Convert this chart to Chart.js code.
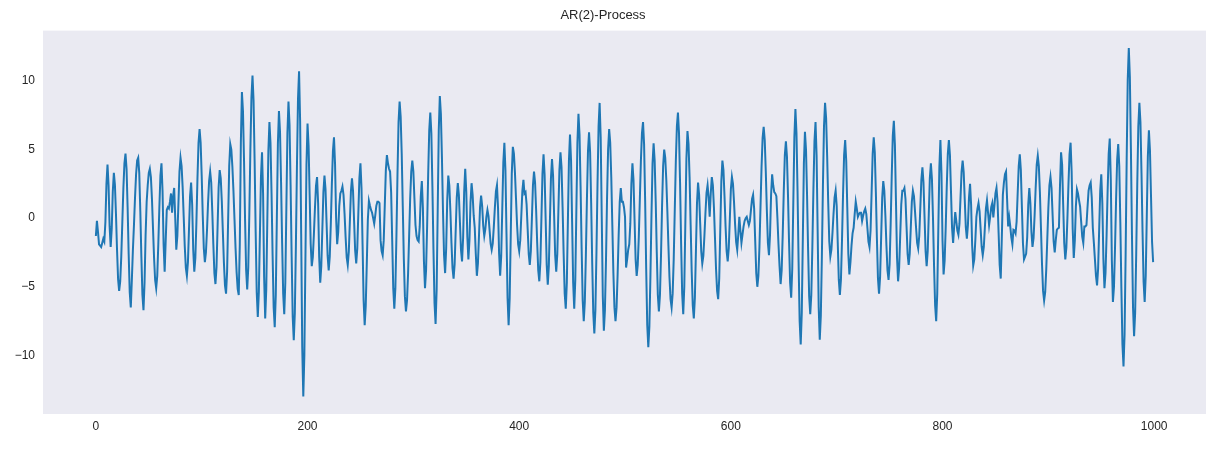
<!DOCTYPE html>
<html>
<head>
<meta charset="utf-8">
<title>AR(2)-Process</title>
<script src="https://cdn.jsdelivr.net/npm/chart.js@4/dist/chart.umd.min.js"></script>
<style>
    html, body { margin: 0; padding: 0; background: #fff; }
    #wrap { position: relative; width: 1215px; height: 449px; }
</style>
</head>
<body>
<div id="wrap"><canvas id="arChart"></canvas></div>
<script>
// Chart text
const TITLE = 'AR(2)-Process';

// Tick labels
const xTicks = [0, 200, 400, 600, 800, 1000];
const yTicks = [-10, -5, 0, 5, 10];

// AR(2) series (index 0..999)
const ar2 = [
    -1.3, -0.2, -1.0, -1.9, -2.0, -2.1, -1.8, -1.5, -1.7, -0.3,
    2.5, 3.9, 2.4, -0.6, -2.1, -0.75, 1.95, 3.3, 2.44, 0.3,
    -2.3, -4.44, -5.3, -4.6, -2.8, -0.3, 2.2, 4.0, 4.7, 3.6,
    0.8, -2.6, -5.4, -6.5, -4.5, -2.3, -0.5, 1.5, 3.2, 4.2,
    4.4, 3.3, 0.5, -2.8, -5.6, -6.7, -4.7, -1.2, 1.2, 2.4,
    3.3, 3.6, 3.0, 1.4, -0.75, -2.9, -4.5, -5.1, -4.2, -1.9,
    0.8, 3.1, 4.0, 2.0, -1.9, -3.9, -1.6, 0.6, 0.8, 0.7,
    1.2, 1.8, 0.4, 1.6, 2.2, 0.0, -2.3, -1.3, 1.05, 3.4,
    4.4, 3.8, 2.25, 0.1, -2.05, -3.6, -4.2, -3.2, -0.8, 1.6,
    2.6, 1.0, -2.3, -3.9, -2.9, -0.3, 2.9, 5.5, 6.5, 5.5,
    3.1, 0.2, -2.2, -3.2, -2.5, -0.9, 1.1, 2.7, 3.4, 2.6,
    0.5, -1.9, -4.0, -4.8, -3.55, -0.65, 2.25, 3.5, 2.9, 1.25,
    -1.0, -3.25, -4.9, -5.5, -3.9, -0.05, 3.8, 5.4, 5.0, 3.75,
    2.0, -0.1, -2.2, -3.95, -5.15, -5.6, -1.9, 5.5, 9.2, 7.8,
    4.2, -0.2, -3.8, -5.2, -3.6, 0.3, 5.0, 8.8, 10.4, 8.6,
    4.2, -1.0, -5.4, -7.2, -5.4, -1.2, 3.0, 4.8, 1.8, -4.3,
    -7.3, -5.2, -0.15, 4.9, 7.0, 5.5, 1.8, -2.7, -6.5, -7.95,
    -5.6, -0.05, 5.45, 7.8, 6.3, 2.6, -1.8, -5.5, -7.0, -4.7,
    0.75, 6.2, 8.5, 6.8, 2.4, -2.8, -7.2, -8.9, -6.9, -2.0,
    3.8, 8.7, 10.7, 7.1, -1.15, -9.4, -13.0, -10.0, -3.05, 3.9,
    6.9, 5.3, 1.7, -1.9, -3.5, -2.85, -1.2, 0.7, 2.35, 3.0,
    1.1, -2.8, -4.7, -3.5, -0.8, 1.9, 3.1, 2.1, -0.35, -2.75,
    -3.8, -2.8, -0.4, 2.5, 4.9, 5.9, 3.95, 0.05, -1.9, -1.0,
    0.9, 1.8, 2.0, 2.3, 1.7, 0.3, -1.4, -2.85, -3.4, -2.45,
    -0.25, 1.95, 2.9, 1.95, -0.2, -2.35, -3.3, -2.2, 0.35, 2.9,
    4.0, 2.2, -1.9, -6.0, -7.8, -6.4, -3.3, -0.1, 1.26, 0.9,
    0.6, 0.4, 0.0, -0.4, 0.2, 0.9, 1.2, 1.2, 1.1, -1.6,
    -2.4, -2.7, -1.6, 0.95, 3.5, 4.6, 4.0, 3.6, 3.4, 1.9,
    -1.6, -5.1, -6.6, -5.1, -1.3, 3.2, 7.0, 8.5, 7.4, 4.7,
    0.85, -3.0, -5.7, -6.8, -6.0, -4.05, -1.3, 1.45, 3.4, 4.2,
    3.4, 1.45, -0.5, -1.3, -1.6, -1.7, -0.6, 1.6, 2.7, 0.75,
    -3.15, -5.1, -3.8, -0.6, 3.2, 6.4, 7.7, 6.2, 2.3, -2.3,
    -6.2, -7.7, -5.2, 0.6, 6.4, 8.9, 7.6, 4.4, 0.5, -2.7,
    -4.0, -2.2, 1.3, 3.1, 2.35, 0.5, -1.8, -3.65, -4.4, -3.35,
    -0.9, 1.5, 2.55, 1.7, -0.3, -2.3, -3.15, -1.45, 1.9, 3.6,
    1.95, -1.35, -3.0, -1.6, 1.15, 2.55, 1.7, 0.2, -0.7, -2.6,
    -4.2, -3.3, -1.3, 0.8, 1.65, 0.9, -0.55, -1.3, -0.8, 0.1,
    0.6, 0.15, -0.85, -1.85, -2.3, -1.85, -0.65, 0.75, 1.95, 2.4,
    0.75, -2.55, -4.2, -2.75, 0.65, 4.05, 5.5, 3.5, -1.15, -5.8,
    -7.8, -5.85, -1.3, 3.25, 5.2, 4.7, 3.3, 1.4, -0.5, -1.9,
    -2.4, -1.6, 0.2, 2.0, 2.8, 1.8, 1.9, 1.0, -0.8, -2.6,
    -3.4, -2.4, 0.0, 2.4, 3.4, 2.6, 0.6, -1.8, -3.8, -4.6,
    -3.2, 0.0, 3.25, 4.65, 3.2, -0.1, -3.4, -4.85, -3.5, -0.3,
    2.9, 4.3, 3.1, 0.2, -2.7, -3.9, -2.6, 0.45, 3.5, 4.8,
    3.7, 0.8, -2.6, -5.5, -6.6, -4.7, -0.25, 4.2, 6.1, 4.2,
    -0.25, -4.7, -6.6, -4.5, 0.5, 5.5, 7.6, 6.1, 2.3, -2.2,
    -6.0, -7.5, -6.1, -2.7, 1.4, 4.9, 6.25, 4.8, 1.1, -3.3,
    -6.9, -8.4, -6.7, -2.5, 2.5, 6.7, 8.4, 5.9, 0.1, -5.7,
    -8.2, -6.7, -3.1, 1.4, 5.0, 6.5, 5.5, 3.0, -0.5, -4.0,
    -6.5, -7.5, -6.5, -4.1, -1.2, 1.2, 2.2, 1.2, 1.2, 0.8,
    0.1, -3.6, -3.0, -2.3, -1.9, -0.4, 2.5, 4.0, 2.8, -0.1,
    -3.0, -4.2, -3.4, -1.4, 1.4, 4.2, 6.2, 7.0, 5.4, 1.3,
    -3.7, -7.8, -9.4, -7.9, -4.2, 0.25, 4.0, 5.45, 4.2, 1.2,
    -2.5, -5.6, -6.8, -5.6, -2.7, 0.9, 3.8, 5.0, 4.4, 2.8,
    0.5, -2.0, -4.3, -5.9, -6.5, -5.5, -3.0, 0.6, 4.15, 6.7,
    7.7, 6.2, 2.6, -1.85, -5.5, -7.0, -5.0, -0.3, 4.35, 6.35,
    5.4, 3.0, -0.5, -3.9, -6.35, -7.3, -5.8, -2.35, 1.1, 2.6,
    1.7, -0.35, -2.4, -3.3, -2.75, -1.3, 0.4, 1.85, 2.4, 1.5,
    0.1, 1.8, 3.0, 2.4, 0.8, -1.45, -3.7, -5.3, -5.9, -4.4,
    -0.85, 2.7, 4.2, 3.5, 1.6, -0.6, -2.4, -3.15, -2.2, -0.1,
    2.1, 3.0, 2.5, 1.15, -0.45, -1.75, -2.3, -1.2, 0.1, -0.9,
    -1.8, -1.2, -0.6, -0.2, 0.0, 0.1, -0.2, -0.5, -0.2, 0.6,
    1.4, 1.7, 0.7, -1.65, -4.0, -5.0, -4.2, -2.1, 0.8, 3.75,
    5.85, 6.66, 5.7, 3.4, 0.6, -1.8, -2.7, -1.2, 1.7, 3.2,
    2.4, 1.9, 1.8, 1.6, 0.0, -1.9, -3.5, -4.8, -3.8, -1.2,
    2.0, 4.6, 5.6, 4.5, 1.6, -1.8, -4.7, -5.8, -3.7, 1.1,
    5.9, 7.95, 6.2, 2.0, -3.2, -7.5, -9.2, -6.9, -1.45, 4.0,
    6.3, 5.0, 1.65, -2.35, -5.7, -7.0, -5.6, -2.1, 2.1, 5.6,
    7.0, 4.6, -0.9, -6.5, -8.85, -7.1, -2.8, 2.4, 6.7, 8.4,
    7.3, 4.5, 1.1, -1.7, -2.8, -2.3, -1.1, 0.3, 1.5, 2.0,
    0.9, -1.8, -4.5, -5.6, -4.5, -1.65, 1.75, 4.6, 5.7, 4.2,
    0.8, -2.6, -4.1, -3.2, -2.0, -1.1, -0.7, 0.3, 1.2, 0.7,
    0.1, 0.3, 0.4, 0.4, -0.2, 0.2, 0.5, 0.7, 0.3, -0.7,
    -1.7, -2.1, -0.9, 1.9, 4.7, 5.9, 4.8, 1.9, -1.5, -4.4,
    -5.5, -4.3, -1.4, 1.5, 2.7, 2.0, 0.2, -2.0, -3.8, -4.5,
    -3.35, -0.4, 3.05, 6.0, 7.1, 5.35, 1.25, -2.85, -4.6, -3.6,
    -1.3, 1.0, 2.0, 2.0, 2.2, 1.4, -0.6, -2.6, -3.4, -2.6,
    -0.7, 1.2, 2.0, 1.6, 0.5, -0.7, -1.8, -2.2, -1.3, 0.75,
    2.8, 3.7, 2.6, 0.1, -2.4, -3.5, -2.4, 0.25, 2.9, 4.0,
    2.85, 0.0, -3.5, -6.35, -7.5, -5.5, -0.9, 3.7, 5.7, 3.25,
    -1.65, -4.1, -3.1, -0.7, 2.3, 4.7, 5.7, 4.6, 1.95, -0.7,
    -1.8, -0.6, 0.45, -0.2, -0.9, -1.2, -0.4, 1.5, 3.4, 4.2,
    3.35, 1.35, -0.65, -1.5, -0.5, 1.5, 2.5, 1.0, -2.0, -3.45,
    -3.0, -1.6, 0.1, 0.7, 1.1, 0.5, -0.8, -2.1, -2.7, -2.1,
    -0.7, 0.7, 1.3, 0.4, -0.5, 0.1, 0.8, 1.1, 0.05, 0.9,
    1.8, 2.2, 1.2, -1.1, -3.4, -4.4, -1.5, 1.7, 2.6, 3.2,
    3.4, 1.4, -0.6, 0.05, -0.6, -1.4, -1.9, -0.85, -0.9, -1.1,
    -0.25, 1.8, 3.8, 4.65, 3.5, 0.8, -1.85, -3.0, -2.8, -2.6,
    -1.4, 1.0, 2.2, 1.1, -1.0, -2.1, -1.45, 0.2, 2.2, 3.9,
    4.55, 3.8, 1.9, -0.7, -3.35, -5.3, -6.0, -5.4, -3.75, -1.5,
    0.75, 2.4, 3.0, 2.2, 0.25, -1.7, -2.5, -1.6, -0.85, -0.75,
    -0.7, 2.4, 4.8, 3.9, 1.0, -1.8, -3.0, -2.15, 0.0, 2.5,
    4.65, 5.5, 3.4, -0.8, -2.9, -1.65, 0.85, 2.1, 1.8, 1.3,
    0.85, -0.25, -1.35, -1.8, -0.6, -0.6, -0.5, 0.8, 2.0, 2.4,
    2.6, 1.5, -0.7, -1.8, -3.0, -4.2, -4.9, -3.7, -0.85, 2.0,
    3.2, 1.1, -3.0, -5.1, -4.0, -1.3, 2.0, 4.7, 5.8, 2.8,
    -3.1, -6.1, -5.0, -2.1, 1.4, 4.25, 5.4, 3.8, -0.3, -5.1,
    -9.2, -10.8, -8.5, -2.7, 4.3, 10.1, 12.4, 10.3, 5.05, -1.25,
    -6.5, -8.6, -6.9, -2.65, 2.45, 6.7, 8.4, 7.0, 3.3, -1.0,
    -4.65, -6.1, -4.2, 0.15, 4.5, 6.4, 4.95, 1.6, -1.75, -3.2
];

// matplotlib-style 5% margins around the data
const n = ar2.length;
const yMin = Math.min(...ar2);
const yMax = Math.max(...ar2);
const yPad = (yMax - yMin) * 0.05;
const xPad = (n - 1) * 0.05;

const FONT = "'Liberation Sans', Arial, sans-serif";
const TEXT_COLOR = '#262626';

// matplotlib prints negatives with a real minus sign and no thousands separator
const tickText = (value) => (value < 0 ? '\u2212' + Math.abs(value) : String(value));

// Paint the seaborn-like axes background
const axesBackground = {
    id: 'axesBackground',
    beforeDraw(chart) {
        const { ctx, chartArea } = chart;
        ctx.save();
        ctx.fillStyle = '#eaeaf2';
        ctx.fillRect(chartArea.left, chartArea.top,
            chartArea.right - chartArea.left, chartArea.bottom - chartArea.top);
        ctx.restore();
    }
};

document.addEventListener('DOMContentLoaded', () => {
    const ctx = document.getElementById('arChart').getContext('2d');
    new Chart(ctx, {
        type: 'line',
        data: {
            datasets: [{
                data: ar2.map((v, i) => ({ x: i, y: v })),
                borderColor: '#1f77b4',
                borderWidth: 2,
                pointRadius: 0,
                tension: 0,
                fill: false
            }]
        },
        options: {
            responsive: true,
            maintainAspectRatio: false,
            animation: false,
            layout: { padding: { left: 0, right: 9, top: 0, bottom: 0 } },
            plugins: {
                legend: { display: false },
                tooltip: { enabled: false },
                title: {
                    display: true,
                    text: TITLE,
                    color: TEXT_COLOR,
                    font: { family: FONT, size: 13, weight: 'normal' },
                    padding: { top: 8, bottom: 7 }
                }
            },
            scales: {
                x: {
                    type: 'linear',
                    min: -xPad,
                    max: n - 1 + xPad,
                    grid: { display: false, drawTicks: false },
                    border: { display: false },
                    ticks: {
                        color: TEXT_COLOR,
                        font: { family: FONT, size: 12 },
                        padding: 5,
                        maxRotation: 0,
                        callback: tickText
                    },
                    afterBuildTicks: (scale) => {
                        scale.ticks = xTicks.map(v => ({ value: v }));
                    },
                    afterFit: (scale) => { scale.height = 35; }
                },
                y: {
                    min: yMin - yPad,
                    max: yMax + yPad,
                    grid: { display: false, drawTicks: false },
                    border: { display: false },
                    ticks: {
                        color: TEXT_COLOR,
                        font: { family: FONT, size: 12 },
                        padding: 8,
                        callback: tickText
                    },
                    afterBuildTicks: (scale) => {
                        scale.ticks = yTicks.map(v => ({ value: v }));
                    },
                    afterFit: (scale) => { scale.width = 43; }
                }
            }
        },
        plugins: [axesBackground]
    });
});
</script>
</body>
</html>
